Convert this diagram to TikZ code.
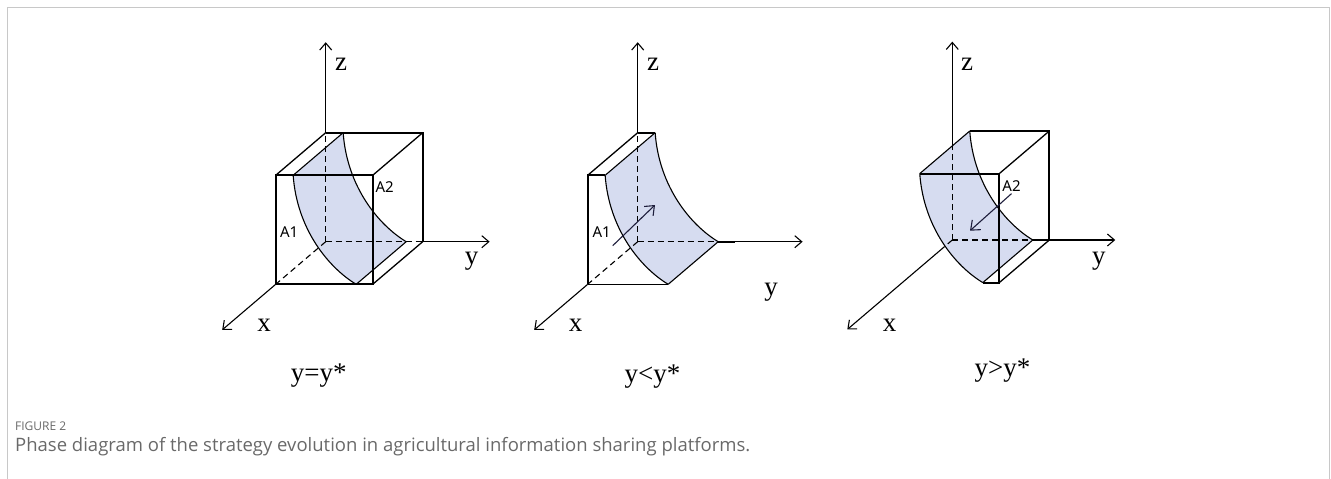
\documentclass[tikz,border=0pt]{standalone}
\usepackage{fontspec}
\setmainfont{Liberation Serif}
\newfontfamily\tagfont{Noto Sans}
\newfontfamily\capfont{Open Sans}
\usetikzlibrary{arrows.meta}
\definecolor{sheet}{RGB}{214,220,240}
\definecolor{frameline}{RGB}{200,200,200}
\definecolor{capgray}{RGB}{105,105,105}
\definecolor{navy}{RGB}{30,30,60}
\tikzset{
	edge/.style={draw=black, line width=1.8pt},
	slant/.style={draw=black, line width=1.3pt},
	rim/.style={draw=black, line width=1.1pt},
	hidden/.style={draw=black, line width=1.1pt, dash pattern=on 6pt off 4pt},
	axis/.style={draw=black, line width=1.1pt, -{Straight Barb[length=7pt,width=12pt]}},
	push/.style={draw=navy, line width=1.1pt, -{Straight Barb[length=8pt,width=13pt]}},
	axlabel/.style={anchor=base, inner sep=0pt, font=\fontsize{27}{30}\selectfont},
	tag/.style={inner sep=0pt, font=\tagfont\fontsize{15}{17}\selectfont},
	cube/.style={x={(-50pt,-42.6pt)}, y={(97pt,0pt)}, z={(0pt,109pt)}},
}
% shaded separatrix sheet between A1 and A2
\newcommand{\drawSheet}{%
	\fill[sheet] (0,0.18,1) .. controls (0,0.22,0.5) and (0,0.55,0.15) .. (0,0.83,0)
		-- (1,0.83,0) .. controls (1,0.55,0.15) and (1,0.22,0.5) .. (1,0.18,1) -- cycle;
	\draw[rim] (0,0.18,1) .. controls (0,0.22,0.5) and (0,0.55,0.15) .. (0,0.83,0);
	\draw[rim] (1,0.18,1) .. controls (1,0.22,0.5) and (1,0.55,0.15) .. (1,0.83,0);
	\draw[rim] (0,0.18,1) -- (1,0.18,1);
	\draw[rim] (0,0.83,0) -- (1,0.83,0);
}

\begin{document}
\begin{tikzpicture}[x=1pt, y=-1pt]
\useasboundingbox (0,0) rectangle (1331,479);

% frame
\draw[frameline, line width=1.3pt] (7.3,479) -- (7.3,7.5) -- (1329.3,7.5) -- (1329.3,479);

% y = y*
\begin{scope}[shift={(325.7,241.7)}, cube]
\drawSheet
\draw[hidden] (0,0,0) -- (0,0,1);
\draw[hidden] (0,0,0) -- (0,1,0);
\draw[hidden] (0,0,0) -- (1,0,0);
\draw[axis] (0,0,1) -- (0,0,1.83);
\draw[axis] (0,1,0) -- (0,1.69,0);
\draw[axis] (1,0,0) -- (2.07,0,0);
\draw[edge] (1,0,0) -- (1,1,0) -- (1,1,1) -- (1,0,1) -- cycle;
\draw[edge] (0,0,1) -- (0,1,1) -- (0,1,0);
\draw[slant] (1,0,1) -- (0,0,1);
\draw[slant] (1,1,1) -- (0,1,1);
\draw[slant] (1,1,0) -- (0,1,0);
\end{scope}

% y < y*
\begin{scope}[shift={(637.7,241.7)}, cube]
\drawSheet
\draw[hidden] (0,0,0) -- (0,0,1);
\draw[hidden] (0,0,0) -- (0,0.83,0);
\draw[hidden] (0,0,0) -- (1,0,0);
\draw[edge] (0,0.83,0) -- (0,1,0);
\draw[axis] (0,1,0) -- (0,1.70,0);
\draw[axis] (0,0,1) -- (0,0,1.83);
\draw[axis] (1,0,0) -- (2.07,0,0);
\draw[edge] (1,0.18,1) -- (1,0,1) -- (1,0,0);
\draw[slant] (1,0,0) -- (1,0.83,0);
\draw[edge] (0,0,1) -- (0,0.18,1);
\draw[slant] (0,0,1) -- (1,0,1);
\end{scope}

% y > y*
\begin{scope}[shift={(952.3,240)}, cube]
\drawSheet
\draw[hidden] (0,0,0) -- (0,0,0.86);
\draw[hidden] (0,0,0) -- (0,0.83,0);
\draw[hidden] (0,0,0) -- (0.17,0,0);
\draw[axis] (0,0,0.86) -- (0,0,1.82);
\draw[axis] (0,1,0) -- (0,1.68,0);
\draw[axis] (0.17,0,0) -- (2.1,0,0);
\draw[edge] (0,0.18,1) -- (0,1,1) -- (0,1,0) -- (0,0.83,0);
\draw[edge] (1,0.18,1) -- (1,1,1) -- (1,1,0) -- (1,0.83,0);
\draw[slant] (0,1,1) -- (1,1,1);
\draw[slant] (0,1,0) -- (1,1,0);
\end{scope}

% axis names
\node[axlabel] (z1) at (341,70) {z};
\node[axlabel] (y1) at (471.7,264) {y};
\node[axlabel] (x1) at (264,331.7) {x};
\node[axlabel] (z2) at (653,70) {z};
\node[axlabel] (y2) at (771,295.7) {y};
\node[axlabel] (x2) at (575.5,331.7) {x};
\node[axlabel] (z3) at (967,70) {z};
\node[axlabel] (y3) at (1098.8,264) {y};
\node[axlabel] (x3) at (889.7,331.7) {x};

% regions
\node[tag] (a11) at (289.2,232.5) {A1};
\node[tag] (a21) at (384.7,187) {A2};
\node[tag] (a12) at (601.7,232.5) {A1};
\node[tag] (a23) at (1011.5,186) {A2};
\coordinate (p2) at (655,205);
\coordinate (p3) at (970,230.7);
\draw[push] (612.7,245.7) -- (p2);
\draw[push] (a23.south) ++(0,2) -- (p3);

% cases
\node[axlabel] (c1) at (318.7,381) {y=y*};
\node[axlabel] (c2) at (652.5,382) {y<y*};
\node[axlabel] (c3) at (1002.5,376) {y>y*};

% caption
\node[anchor=base west, inner sep=0pt, text=capgray, font=\capfont\fontsize{12}{14}\selectfont] (fig) at (15,430.7) {FIGURE 2};
\node[anchor=base west, inner sep=0pt, text=capgray, font=\capfont\fontsize{18.5}{21}\selectfont] (cap) at (15,451) {Phase diagram of the strategy evolution in agricultural information sharing platforms.};
\end{tikzpicture}
\end{document}
